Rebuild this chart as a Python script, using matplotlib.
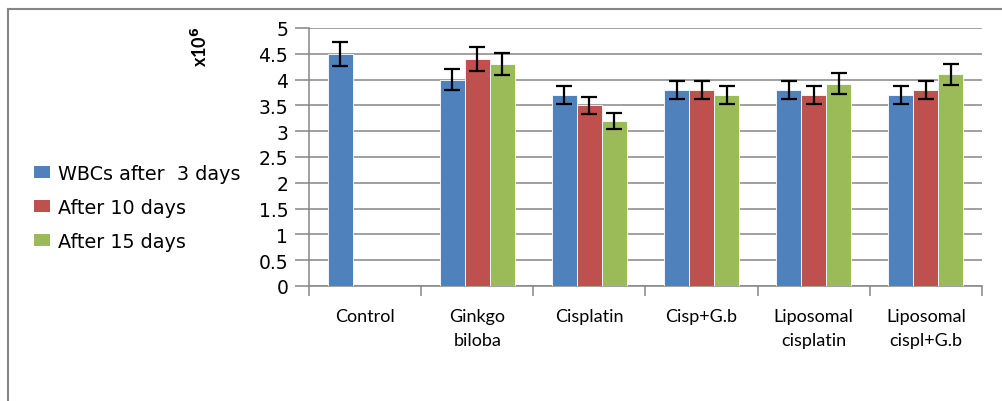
import matplotlib
matplotlib.use("Agg")
import matplotlib.pyplot as plt
import numpy as np
from matplotlib.patches import Patch
from matplotlib.lines import Line2D

plt.rcParams['font.family'] = ['Lato', 'DejaVu Sans']

categories = ["Control", "Ginkgo\nbiloba", "Cisplatin", "Cisp+G.b", "Liposomal\ncisplatin", "Liposomal\ncispl+G.b"]
series_names = ["WBCs after  3 days", "After 10 days", "After 15 days"]
day3 = [4.5, 4.0, 3.7, 3.8, 3.8, 3.7]
day3_err = [0.23, 0.2, 0.18, 0.18, 0.18, 0.18]
day10 = [np.nan, 4.4, 3.5, 3.8, 3.7, 3.8]
day10_err = [np.nan, 0.23, 0.17, 0.18, 0.18, 0.18]
day15 = [np.nan, 4.3, 3.2, 3.7, 3.92, 4.1]
day15_err = [np.nan, 0.21, 0.16, 0.18, 0.2, 0.2]
yticks = [0, 0.5, 1, 1.5, 2, 2.5, 3, 3.5, 4, 4.5, 5]
colors = ["#4F81BD", "#C0504D", "#9BBB59"]

fig = plt.figure(figsize=(10.03, 4.02), dpi=100)
ax = fig.add_axes([309/1003, 1-287/402, (982-309)/1003, (287-29)/402])

x = np.arange(len(categories))
w = 0.223
grid_c = "#868686"
for i, (vals, errs) in enumerate([(day3, day3_err), (day10, day10_err), (day15, day15_err)]):
    v = np.array(vals, dtype=float)
    e = np.array(errs, dtype=float)
    m = ~np.isnan(v)
    xs = x[m] + (i - 1) * w
    ax.bar(xs, v[m], width=w, color=colors[i], edgecolor="white", linewidth=0.6, zorder=3)
    ax.errorbar(xs, v[m], yerr=e[m], fmt="none", ecolor="black", elinewidth=1.6,
                capsize=5.5, capthick=1.6, zorder=4)

ax.set_xlim(-0.5, len(categories) - 0.5)
ax.set_ylim(0, 5)
ax.set_yticks(yticks)
ax.set_yticklabels([f"{t:g}" for t in yticks], fontsize=13.5, family=['DejaVu Sans'])
ax.yaxis.grid(True, color=grid_c, linewidth=1.1, zorder=0)
ax.set_axisbelow(True)
for s in ["top", "right"]:
    ax.spines[s].set_visible(False)
for s in ["left", "bottom"]:
    ax.spines[s].set_color(grid_c)
    ax.spines[s].set_linewidth(1.1)
ax.tick_params(axis="y", length=10, width=1.1, color=grid_c, pad=5)

ax.set_xticks(np.arange(-0.5, len(categories)), minor=False)
ax.set_xticklabels([])
ax.tick_params(axis="x", length=7, width=1.1, color=grid_c)
for xi, lab in zip(x, categories):
    ax.text(xi, -0.43, lab, ha="center", va="top", fontsize=13, linespacing=1.6,
            transform=ax.transData)

fig.text(200/1003, 1-47/402, "x10$^\\mathbf{6}$", rotation=90, ha="center", va="center",
         fontsize=13, fontweight="bold")

handles = [Patch(facecolor=c, edgecolor="none") for c in colors]
fig.legend(handles, series_names, loc="upper left", bbox_to_anchor=(34/1003, 1-165/402),
           frameon=False, prop={'family': ['DejaVu Sans'], 'size': 13.8},
           handlelength=0.85, handleheight=0.55,
           handletextpad=0.4, labelspacing=0.78, borderaxespad=0, borderpad=0)

# outer chart border (top and left)
fig.add_artist(Line2D([8.5/1003, 8.5/1003], [0, 1-9.5/402], transform=fig.transFigure,
                      color="#868686", linewidth=1.5))
fig.add_artist(Line2D([8.5/1003, 1], [1-9.5/402, 1-9.5/402], transform=fig.transFigure,
                      color="#868686", linewidth=1.5))

fig.savefig("out.png", dpi=100)
